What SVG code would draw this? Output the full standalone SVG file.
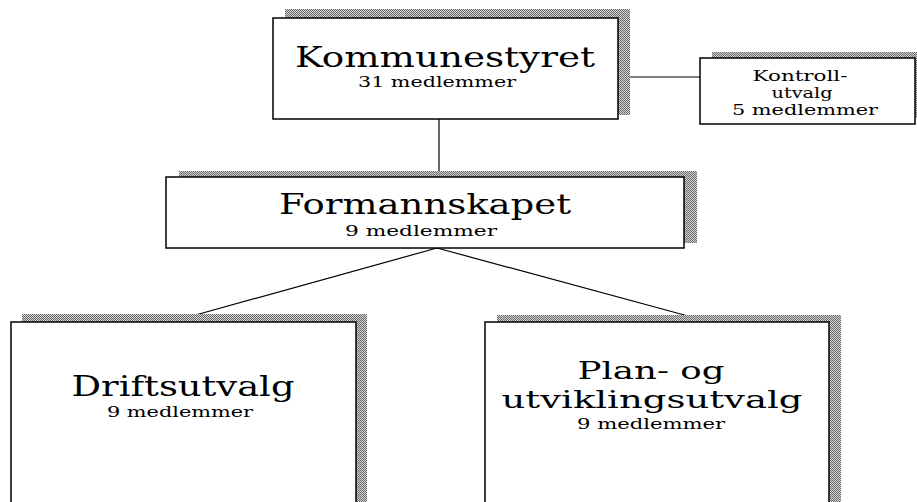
<svg xmlns="http://www.w3.org/2000/svg" width="917" height="502" viewBox="0 0 917 502">
  <defs>
    <pattern id="dither" width="2" height="2" patternUnits="userSpaceOnUse">
      <rect width="2" height="2" fill="#d4d4d4"/>
      <rect width="1" height="1" fill="#6a6a6a"/>
      <rect x="1" y="1" width="1" height="1" fill="#6a6a6a"/>
    </pattern>
  </defs>
  <style>
    .box { fill: #ffffff; stroke: #000000; stroke-width: 1.5; }
    .shadow { fill: url(#dither); stroke: none; }
    .conn { stroke: #000000; stroke-width: 1.2; fill: none; }
    text { font-family: "DejaVu Serif", "Liberation Serif", "Times New Roman", Times, serif; text-anchor: middle; fill: #000000; }
    .big { font-size: 28px; }
    .plan { font-size: 25px; }
    .small { font-size: 14px; }
    .mid { font-size: 14px; }
  </style>
  <rect width="917" height="502" fill="#ffffff"/>

  <g id="connectors">
    <line class="conn" x1="439" y1="119" x2="439" y2="172"/>
    <line class="conn" x1="630" y1="77" x2="700" y2="77"/>
    <line class="conn" x1="437" y1="248" x2="192" y2="316"/>
    <line class="conn" x1="437" y1="248" x2="688" y2="316"/>
  </g>

  <g id="kommunestyret">
    <rect class="shadow" x="285" y="9" width="345" height="106"/>
    <rect class="box" x="273" y="18" width="345" height="101"/>
    <text class="big" x="445" y="67" textLength="300" lengthAdjust="spacingAndGlyphs">Kommunestyret</text>
    <text class="small" x="437" y="87" textLength="158" lengthAdjust="spacingAndGlyphs">31 medlemmer</text>
  </g>

  <g id="kontrollutvalg">
    <rect class="shadow" x="712" y="52" width="215" height="66"/>
    <rect class="box" x="700" y="58" width="215" height="66"/>
    <text class="mid" x="800" y="81" textLength="95" lengthAdjust="spacingAndGlyphs">Kontroll-</text>
    <text class="mid" x="802" y="98" textLength="61" lengthAdjust="spacingAndGlyphs">utvalg</text>
    <text class="mid" x="805" y="115" textLength="146" lengthAdjust="spacingAndGlyphs">5 medlemmer</text>
  </g>

  <g id="formannskapet">
    <rect class="shadow" x="179" y="171" width="518" height="72"/>
    <rect class="box" x="166" y="177" width="518" height="71"/>
    <text class="big" x="425" y="214" textLength="292" lengthAdjust="spacingAndGlyphs">Formannskapet</text>
    <text class="small" x="421" y="236" textLength="152" lengthAdjust="spacingAndGlyphs">9 medlemmer</text>
  </g>

  <g id="driftsutvalg">
    <rect class="shadow" x="22" y="314" width="345" height="200"/>
    <rect class="box" x="11" y="322" width="345" height="200"/>
    <text class="big" x="183" y="396" textLength="223" lengthAdjust="spacingAndGlyphs">Driftsutvalg</text>
    <text class="small" x="180" y="417" textLength="146" lengthAdjust="spacingAndGlyphs">9 medlemmer</text>
  </g>

  <g id="planogutviklingsutvalg">
    <rect class="shadow" x="497" y="315" width="344" height="200"/>
    <rect class="box" x="485" y="322" width="344" height="200"/>
    <text class="plan" x="651" y="379" textLength="147" lengthAdjust="spacingAndGlyphs">Plan- og</text>
    <text class="plan" x="652" y="408" textLength="301" lengthAdjust="spacingAndGlyphs">utviklingsutvalg</text>
    <text class="small" x="651" y="429" textLength="148" lengthAdjust="spacingAndGlyphs">9 medlemmer</text>
  </g>
</svg>
